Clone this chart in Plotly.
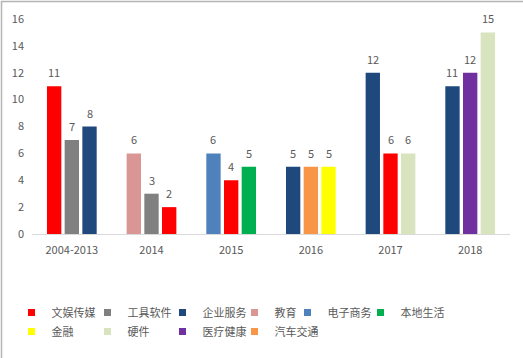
import plotly.graph_objects as go

categories = ["2004-2013", "2014", "2015", "2016", "2017", "2018"]
y_ticks = [0, 2, 4, 6, 8, 10, 12, 14, 16]

series_names = ["文娱传媒", "工具软件", "企业服务", "教育", "电子商务",
                "本地生活", "金融", "硬件", "医疗健康", "汽车交通"]
series_colors = ["#FF0000", "#808080", "#1F497D", "#D99694", "#4F81BD",
                 "#00B050", "#FFFF00", "#D7E4BD", "#7030A0", "#F79646"]

# values per series, by category (None = not present)
wenyu_chuanmei = [11, 2, 4, None, 6, None]
gongju_ruanjian = [7, 3, None, None, None, None]
qiye_fuwu = [8, None, None, 5, 12, 11]
jiaoyu = [None, 6, None, None, None, None]
dianzi_shangwu = [None, None, 6, None, None, None]
bendi_shenghuo = [None, None, 5, None, None, None]
jinrong = [None, None, None, 5, None, None]
yingjian = [None, None, None, None, 6, 15]
yiliao_jiankang = [None, None, None, None, None, 12]
qiche_jiaotong = [None, None, None, 5, None, None]

series_values = [wenyu_chuanmei, gongju_ruanjian, qiye_fuwu, jiaoyu, dianzi_shangwu,
                 bendi_shenghuo, jinrong, yingjian, yiliao_jiankang, qiche_jiaotong]

# left-to-right order of series inside each category
group_order = [
    ["文娱传媒", "工具软件", "企业服务"],
    ["教育", "工具软件", "文娱传媒"],
    ["电子商务", "文娱传媒", "本地生活"],
    ["企业服务", "汽车交通", "金融"],
    ["企业服务", "文娱传媒", "硬件"],
    ["企业服务", "医疗健康", "硬件"],
]

# legend grid: 6 columns, 2 rows (series index -> column)
legend_columns = [0, 1, 2, 3, 4, 5, 0, 1, 2, 3]

TEXT = "#595959"
FONT = "Noto Sans CJK SC, Noto Sans, sans-serif"
BAR_W = 0.18
SLOT = 0.222
W, H = 523, 358

fig = go.Figure()
annotations = []
for name, color, vals, col in zip(series_names, series_colors, series_values, legend_columns):
    xs, ys, offs = [], [], []
    for ci, v in enumerate(vals):
        if v is None:
            continue
        slot = group_order[ci].index(name) - 1
        xs.append(categories[ci])
        ys.append(v)
        offs.append(slot * SLOT - BAR_W / 2)
        annotations.append(dict(
            x=ci + slot * SLOT, y=v, xref="x", yref="y", text=str(v),
            showarrow=False, yanchor="middle", yshift=14,
            font=dict(color=TEXT, size=11, family=FONT),
        ))
    fig.add_trace(go.Bar(
        x=xs, y=ys, name=name, marker=dict(color=color, line=dict(width=0)),
        width=[BAR_W] * len(xs), offset=offs,
        cliponaxis=False, showlegend=False,
    ))
    # legend entry
    fig.add_trace(go.Scatter(
        x=[None], y=[None], mode="markers", name=name,
        marker=dict(symbol="square", size=7, color=color),
        legend="legend" if col == 0 else f"legend{col + 1}",
    ))

PH = H - 19 - 124
PW = W - 32 - 13
col_symbol_px = [30, 106, 181, 253, 306, 379]
legends = {}
for i, sx in enumerate(col_symbol_px):
    key = "legend" if i == 0 else f"legend{i + 1}"
    legends[key] = dict(
        orientation="v", xref="container", yref="container",
        x=(sx - 18.5) / W, y=1 - 298 / H, xanchor="left", yanchor="top",
        font=dict(size=11, color=TEXT, family=FONT),
        bgcolor="rgba(0,0,0,0)", itemwidth=30, tracegroupgap=0,
    )

fig.update_layout(
    width=W, height=H,
    margin=dict(l=32, r=13, t=19, b=124, autoexpand=False),
    paper_bgcolor="white", plot_bgcolor="white",
    barmode="overlay",
    font=dict(family=FONT, color=TEXT, size=11),
    xaxis=dict(type="category", categoryorder="array", categoryarray=categories,
               showline=True, linecolor="#D9D9D9", linewidth=1, ticks="",
               showgrid=False, zeroline=False, ticklabelstandoff=6,
               tickfont=dict(size=11, color=TEXT, family=FONT), range=[-0.5, 5.5]),
    yaxis=dict(range=[0, 16], tickvals=y_ticks, showgrid=False, zeroline=False,
               showline=False, ticks="", ticklabelstandoff=7,
               tickfont=dict(size=11, color=TEXT, family=FONT)),
    annotations=annotations,
    shapes=[
        dict(type="rect", xref="paper", yref="paper", x0=-30.5 / PW, x1=(W + 10 - 32) / PW,
             y0=1 + 17.5 / PH, y1=-(124 + 10) / PH, fillcolor="rgba(0,0,0,0)",
             line=dict(color="#B4B4B4", width=1.5), layer="below"),
    ],
    **legends,
)

fig.write_html("out.html", config={"displayModeBar": False},
               post_script="document.body.style.margin='0';")
